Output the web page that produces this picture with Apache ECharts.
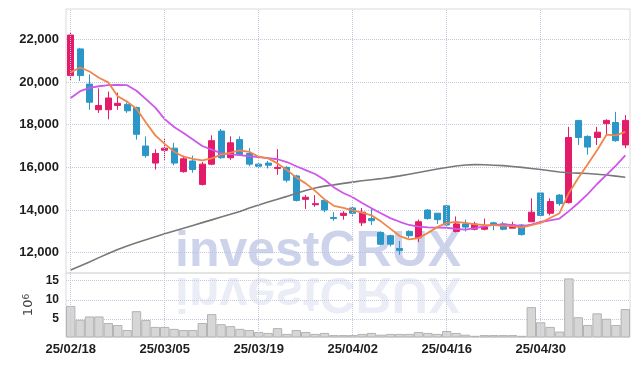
<!DOCTYPE html>
<html>
<head>
<meta charset="utf-8">
<script src="https://cdn.jsdelivr.net/npm/echarts@6/dist/echarts.min.js"></script>
<style>
html,body{margin:0;padding:0;background:#fff;}
#chart{width:639px;height:366px;}
</style>
</head>
<body>
<div id="chart"></div>
<script>
const dates = ['25/02/18','25/02/19','25/02/20','25/02/21','25/02/24','25/02/25','25/02/26','25/02/27','25/02/28','25/03/04',
 '25/03/05','25/03/06','25/03/07','25/03/10','25/03/11','25/03/12','25/03/13','25/03/14','25/03/17','25/03/18',
 '25/03/19','25/03/20','25/03/21','25/03/24','25/03/25','25/03/26','25/03/27','25/03/28','25/03/31','25/04/01',
 '25/04/02','25/04/03','25/04/04','25/04/07','25/04/08','25/04/09','25/04/10','25/04/11','25/04/14','25/04/15',
 '25/04/16','25/04/17','25/04/18','25/04/21','25/04/22','25/04/23','25/04/24','25/04/25','25/04/28','25/04/29',
 '25/04/30','25/05/02','25/05/07','25/05/08','25/05/09','25/05/12','25/05/13','25/05/14','25/05/15','25/05/16'];
const tickDates = ['25/02/18','25/03/05','25/03/19','25/04/02','25/04/16','25/04/30'];
const priceTicks = [12000,14000,16000,18000,20000,22000];
const volTicks = [5,10,15];

const openP = [20300,21550,19900,18700,18700,18900,18950,18800,17000,16200,
 16800,16900,15800,16300,15200,16150,17700,16450,17300,16650,
 16150,16200,15950,16000,15600,14500,14250,14450,13650,13750,
 14100,13400,13600,12950,12800,12200,13000,12700,14000,13850,
 14200,13000,13350,13100,13100,13400,13350,13150,13300,13450,
 14800,13850,14700,14350,18200,17450,17400,18050,18100,17050];
const closeP = [22200,20300,19050,18900,19250,19000,18650,17550,16550,16650,
 16900,16200,16400,15900,16150,17250,16450,17150,16600,16150,
 16050,16100,16000,15400,14450,14600,14300,14000,13600,13850,
 13850,13900,13500,12400,12400,12100,12800,13450,13600,13550,
 13300,13350,13200,13350,13200,13300,13100,13300,12850,13900,
 13750,14400,14300,17400,17400,16950,17650,18200,17250,18200];
const lowP = [20050,20050,18700,18550,18250,18700,18550,17300,16450,15900,
 16350,16100,15750,15750,15150,16100,16400,16350,16550,16050,
 15950,15950,15650,15300,14400,14050,14150,13900,13500,13550,
 13700,13250,13300,12350,12300,11900,12700,12500,13550,13350,
 13200,12950,13000,13050,13050,13050,13050,13150,12800,13450,
 13750,13750,14200,14300,17050,16600,17050,17550,17200,16900];
const highP = [22300,21600,20350,19700,19550,19500,19050,18850,17450,16850,
 17350,17150,16550,16550,16250,17500,17800,17450,17450,16900,
 16200,16300,16850,16050,15650,14700,14700,14500,13900,13950,
 14150,14100,14050,13000,12850,12550,13050,13550,14050,13850,
 14200,13700,13550,13450,13600,13450,13450,13450,13350,14550,
 14850,14550,14750,17900,18200,17500,17900,18250,18600,18450];

const maShort = [20450,20680,20490,20200,19980,19330,19080,18750,18100,17500,
 17100,16730,16500,16400,16330,16420,16600,16690,16790,16730,
 16500,16420,16185,15880,15520,15250,14900,14500,14200,14100,
 13980,13880,13750,13470,13130,12780,12630,12680,12930,13200,
 13400,13450,13400,13330,13300,13290,13260,13250,13180,13290,
 13400,13630,13850,14800,15500,16150,16800,17530,17500,17660];
const maMid = [19250,19570,19720,19800,19850,19860,19850,19590,19200,18800,
 18260,17890,17610,17310,17000,16830,16670,16610,16570,16520,
 16480,16430,16380,16250,16050,15870,15690,15420,15060,14800,
 14600,14330,14080,13850,13620,13450,13300,13220,13190,13180,
 13170,13120,13080,13150,13230,13300,13330,13300,13250,13320,
 13440,13520,13600,13950,14330,14750,15220,15650,16080,16560];
const maLong = [11190,11380,11570,11770,11960,12150,12320,12470,12610,12750,
 12890,13020,13150,13280,13410,13540,13670,13800,13930,14100,
 14240,14380,14510,14640,14790,14920,15030,15120,15180,15250,
 15310,15370,15420,15470,15530,15600,15680,15760,15840,15920,
 15990,16060,16110,16130,16120,16100,16080,16040,16000,15950,
 15900,15840,15780,15750,15730,15710,15680,15640,15590,15540];
const volume = [8.4,4.85,5.7,5.7,4.0,3.5,2.2,7.06,4.76,3.0,
 3.0,2.5,2.2,2.2,4.0,6.3,3.7,3.2,2.5,2.2,
 1.7,1.45,2.7,1.2,2.2,1.7,1.2,1.45,0.9,0.9,
 0.9,1.2,1.45,1.0,1.2,1.2,1.2,1.7,1.45,1.2,
 1.95,1.45,1.0,0.7,0.9,0.9,0.9,0.9,0.7,8.1,
 4.2,3.0,1.8,15.5,5.5,3.5,6.5,5.1,3.5,7.6];

const candleData = dates.map((d, i) => [openP[i], closeP[i], lowP[i], highP[i]]);

const RED = '#e31b68', BLUE = '#2b96c8';
const FONT = "'Liberation Sans', Arial, sans-serif";
const gridLine = {type: 'dotted', color: '#c3c8dd', width: 1};
const vLines = {
  symbol: ['none', 'none'], silent: true, animation: false,
  label: {show: false},
  lineStyle: gridLine,
  emphasis: {disabled: true},
  data: tickDates.map(d => ({xAxis: d}))
};

const chart = echarts.init(document.getElementById('chart'));
chart.setOption({
  animation: false,
  backgroundColor: '#fff',
  grid: [
    {left: 66, width: 564, top: 9, height: 264, show: true, borderColor: '#dadada', borderWidth: 1, backgroundColor: 'transparent'},
    {left: 66, width: 564, top: 273, height: 64, show: true, borderColor: '#dadada', borderWidth: 1, backgroundColor: 'transparent'}
  ],
  xAxis: [
    {type: 'category', gridIndex: 0, data: dates, boundaryGap: true,
     axisLine: {show: false}, axisTick: {show: false}, axisLabel: {show: false}, splitLine: {show: false}},
    {type: 'category', gridIndex: 1, data: dates, boundaryGap: true,
     axisLine: {show: false}, axisTick: {show: false}, splitLine: {show: false},
     axisLabel: {interval: (idx, val) => tickDates.indexOf(val) >= 0, fontFamily: FONT, fontWeight: 'bold', fontSize: 13, color: '#1e1e1e', margin: 6}}
  ],
  yAxis: [
    {type: 'value', gridIndex: 0, min: 11050, max: 23420, scale: true,
     axisLine: {show: false}, axisTick: {show: false, customValues: priceTicks},
     axisLabel: {customValues: priceTicks, formatter: v => Number(v).toLocaleString('en-US'), fontFamily: FONT, fontWeight: 'bold', fontSize: 13, color: '#1e1e1e', margin: 7},
     splitLine: {show: true, lineStyle: gridLine}},
    {type: 'value', gridIndex: 1, min: 0.4, max: 16.9,
     name: '10{s|6}', nameLocation: 'middle', nameRotate: 90, nameGap: 24,
     nameTextStyle: {fontFamily: 'DejaVu Sans', fontSize: 13, color: '#444', rich: {s: {fontSize: 9, verticalAlign: 'top', color: '#444', fontFamily: 'DejaVu Sans'}}},
     axisLine: {show: false}, axisTick: {show: false, customValues: volTicks},
     axisLabel: {customValues: volTicks, fontFamily: FONT, fontWeight: 'bold', fontSize: 12, color: '#1e1e1e', margin: 7},
     splitLine: {show: true, lineStyle: gridLine}}
  ],
  graphic: [
    {type: 'text', x: 175, y: 252, z: 1, silent: true,
     style: {text: 'investCRUX', font: "bold 50px 'Liberation Sans', Arial, sans-serif", fill: 'rgba(186,194,226,0.72)', verticalAlign: 'middle', align: 'left'}},
    {type: 'text', x: 175, y: 292, scaleY: -1, z: 1, silent: true,
     style: {text: 'investCRUX', font: "bold 50px 'Liberation Sans', Arial, sans-serif", fill: 'rgba(205,210,232,0.4)', verticalAlign: 'middle', align: 'left'}}
  ],
  series: [
    {type: 'candlestick', xAxisIndex: 0, yAxisIndex: 0, data: candleData, barWidth: '68%', z: 3,
     itemStyle: {color: RED, color0: BLUE, borderColor: RED, borderColor0: BLUE, borderWidth: 1},
     markLine: vLines},
    {type: 'line', xAxisIndex: 0, yAxisIndex: 0, data: maLong, symbol: 'none', z: 4,
     lineStyle: {color: '#787878', width: 1.6}},
    {type: 'line', xAxisIndex: 0, yAxisIndex: 0, data: maMid, symbol: 'none', z: 4,
     lineStyle: {color: '#cf56ea', width: 1.8}},
    {type: 'line', xAxisIndex: 0, yAxisIndex: 0, data: maShort, symbol: 'none', z: 5,
     lineStyle: {color: '#ef864a', width: 1.8}},
    {type: 'bar', xAxisIndex: 1, yAxisIndex: 1, data: volume, barWidth: '100%', z: 3,
     itemStyle: {color: '#d6d6d6', borderColor: '#b3b3b3', borderWidth: 1},
     markLine: vLines}
  ]
});
</script>
</body>
</html>
